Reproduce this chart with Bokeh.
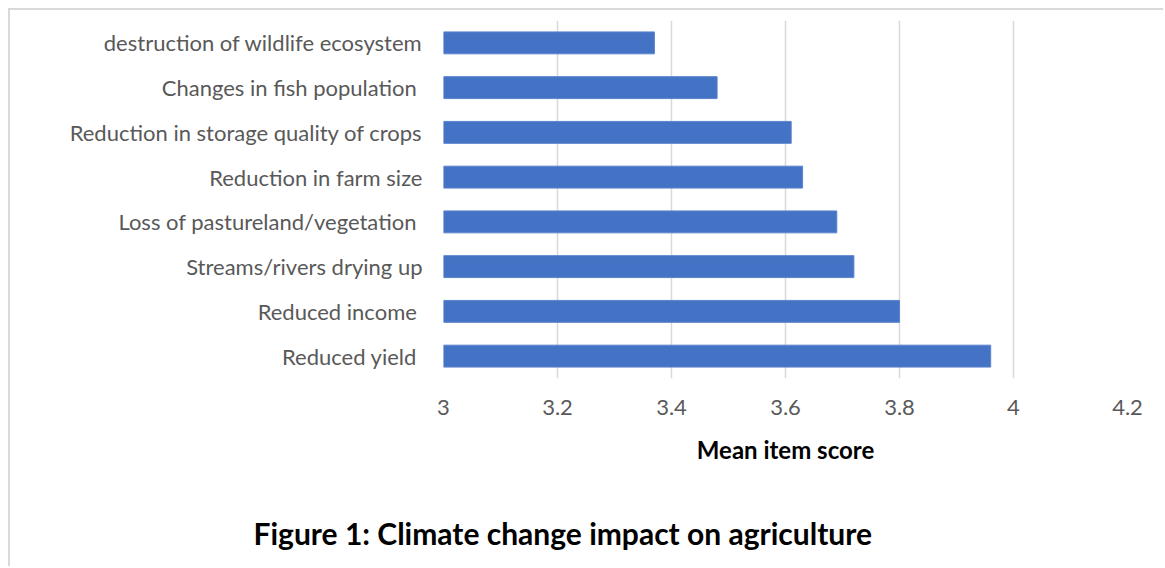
from bokeh.plotting import figure
from bokeh.models import FactorRange, Range1d, FixedTicker, Title, ColumnDataSource
from bokeh.embed import file_html
from bokeh.resources import INLINE

categories = [
    "destruction of wildlife ecosystem",
    "Changes in fish population ",
    "Reduction in storage quality of crops",
    "Reduction in farm size",
    "Loss of pastureland/vegetation ",
    "Streams/rivers drying up",
    "Reduced income ",
    "Reduced  yield",
]
scores = [3.37, 3.48, 3.61, 3.63, 3.69, 3.72, 3.80, 3.96]
x_ticks = [3, 3.2, 3.4, 3.6, 3.8, 4, 4.2]
x_tick_labels = ["3", "3.2", "3.4", "3.6", "3.8", "4", "4.2"]
x_title = "Mean item score"
caption = "Figure 1: Climate change impact on agriculture"

FONT = "Lato"

src = ColumnDataSource(data=dict(cat=categories, score=scores))

p = figure(
    width=1155, height=558,
    y_range=FactorRange(factors=categories[::-1]),
    x_range=Range1d(x_ticks[0], x_ticks[-1]),
    output_backend="svg", toolbar_location=None,
    min_border_left=433, min_border_right=38,
    min_border_top=10, min_border_bottom=190,
)
p.margin = (8, 0, 0, 8)
p.styles = {"border-left": "2px solid #d9d9d9", "border-top": "2px solid #d9d9d9"}
p.outline_line_color = None
p.background_fill_color = "white"
p.border_fill_color = "white"

p.hbar(y="cat", left=x_ticks[0], right="score", height=0.49, source=src,
       fill_color="#4472C4", line_color="#5B84CE", line_width=1)

p.ygrid.grid_line_color = None
p.xgrid.grid_line_color = "#d9d9d9"
p.xgrid.grid_line_width = 1.5
p.xgrid.level = "underlay"

xa = p.xaxis[0]
xa.ticker = FixedTicker(ticks=x_ticks)
xa.major_label_overrides = {t: l for t, l in zip(x_ticks, x_tick_labels)}
xa.axis_line_color = None
xa.major_tick_line_color = None
xa.minor_tick_line_color = None
xa.major_label_standoff = 15
xa.major_label_text_font = FONT
xa.major_label_text_font_size = "22px"
xa.major_label_text_color = "#595959"
xa.axis_label = x_title
xa.axis_label_text_font = FONT
xa.axis_label_text_font_style = "bold"
xa.axis_label_text_font_size = "24px"
xa.axis_label_text_color = "#000000"
xa.axis_label_standoff = 17

ya = p.yaxis[0]
ya.axis_line_color = None
ya.major_tick_line_color = None
ya.minor_tick_line_color = None
ya.major_label_standoff = 15
ya.major_label_text_font = FONT
ya.major_label_text_font_size = "22px"
ya.major_label_text_color = "#595959"

p.add_layout(Title(text="\n" + caption, align="left", offset=-190, standoff=21,
                   vertical_align="bottom", text_font=FONT, text_font_style="bold",
                   text_font_size="30px", text_color="#000000"), "below")

open("out.html", "w").write(file_html(p, INLINE))
